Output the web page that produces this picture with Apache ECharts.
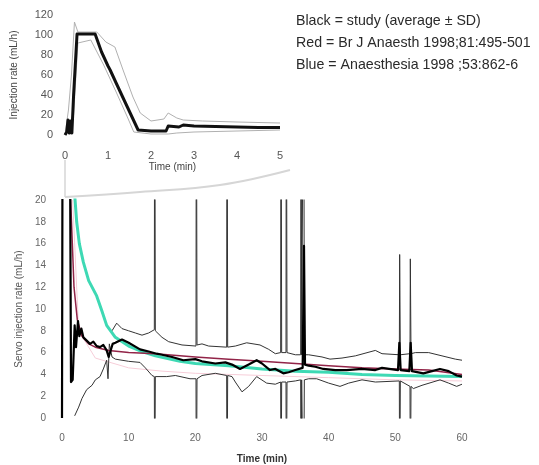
<!DOCTYPE html>
<html>
<head>
<meta charset="utf-8">
<script src="https://cdn.jsdelivr.net/npm/echarts@6/dist/echarts.min.js"></script>
<style>
  html, body { margin: 0; padding: 0; background: #fff; }
  #chart { width: 539px; height: 465px; }
</style>
</head>
<body>
<div id="chart"></div>
<script>
// ---- First 5 minutes (inset): injection rate, mL/h ----
const insetMean = [[0,0],[0.04,3],[0.07,15],[0.1,2],[0.13,14],[0.16,2],[0.2,40],[0.28,101],[0.7,101],[0.85,83],[1.0,69],[1.05,65],[1.2,51],[1.45,28],[1.7,5],[2.0,4],[2.35,4],[2.4,9],[2.65,8],[2.75,10],[3.0,9],[3.5,8.5],[4.0,8],[4.5,7.5],[5.0,7.5]];
const insetUpper = [[0,0],[0.08,25],[0.15,60],[0.22,113],[0.3,103],[0.74,103],[0.95,93],[1.16,88],[1.35,65],[1.58,38],[1.75,22],[2.0,14],[2.3,16],[2.4,22],[2.6,17],[2.75,15],[3.2,14],[4.0,13],[5.0,12]];
const insetLower = [[0,0],[0.2,20],[0.3,92],[0.6,95],[0.9,70],[1.2,42],[1.45,18],[1.6,3],[2.0,1],[2.4,1],[2.6,2],[3.0,3],[4.0,4],[5.0,5]];
const insetXTicks = [0, 5, 1];     // min, max, step
const insetYTicks = [0, 120, 20];

// ---- Full 60 minutes: servo injection rate, mL/h ----
const studyMean = [[0,0],[0.08,0],[0.3,100],[0.9,100],[1.2,25],[1.35,3.3],[1.6,3.5],[1.9,8.5],[2.1,6.5],[2.4,8.9],[2.6,7.5],[2.9,8.2],[3.2,7.4],[3.7,7.1],[4.2,6.8],[4.7,7.0],[5.2,6.6],[5.7,6.5],[6.2,6.7],[6.7,6.2],[7.0,5.6],[7.3,5.5],[7.6,6.8],[8,6.9],[9,7.2],[10,6.9],[11.7,6.3],[13,6.1],[14.2,5.9],[15,5.8],[16.5,5.6],[18.2,5.3],[20,5.4],[21,5.2],[23,5.0],[24.5,5.1],[25.5,4.9],[26.7,4.5],[28,4.9],[29.2,5.3],[30,5.0],[31.2,4.4],[32,4.5],[33.2,4.1],[34,4.2],[35,4.4],[36.1,4.6],[36.3,15.8],[36.45,4.9],[37,4.8],[38,4.7],[39.2,4.5],[41,4.4],[42.7,4.4],[45,4.5],[47,4.4],[48,4.6],[50.4,4.4],[50.6,6.9],[50.8,4.4],[52.1,4.3],[52.3,6.9],[52.5,4.3],[54.2,4.1],[55.5,4.3],[56.7,4.5],[58,4.3],[59.2,3.9],[60,3.8]];
const studyUpper = [[6.8,8.3],[7.5,8.0],[8.2,8.7],[9,8.2],[10,8.0],[11,7.8],[12,7.6],[13,7.8],[13.85,8.1],[13.9,40],[14.0,8.0],[15,7.4],[16,7.0],[18,6.7],[20.1,6.6],[20.15,40],[20.25,6.7],[21,6.8],[22,6.6],[24.7,6.5],[24.75,40],[24.85,6.5],[26,6.6],[27.7,6.9],[29.7,6.7],[31,6.3],[32,5.9],[32.8,6.0],[32.85,40],[32.95,6.0],[33.6,6.0],[33.65,40],[33.75,6.0],[35,5.8],[35.8,5.8],[35.85,40],[35.95,5.8],[36.2,5.8],[36.25,40],[36.35,5.8],[37,5.8],[39,5.6],[40.2,5.4],[42,5.5],[44,5.7],[47,6.2],[48,5.9],[50.6,5.8],[50.65,15],[50.75,5.8],[52.2,5.9],[52.25,14.6],[52.35,5.9],[53,6.0],[55,6.0],[57,5.7],[59,5.4],[60,5.3]];
const studyLower = [[1.9,0.2],[2.5,1.0],[3,1.8],[3.7,2.6],[4.5,3.0],[5,3.5],[5.7,3.8],[6.2,4.5],[6.7,5.3],[6.9,3.6],[7.1,6.8],[7.5,5.6],[8,5.4],[9,5.3],[10,5.2],[11.7,5.1],[12.5,4.6],[13.5,3.9],[13.85,3.8],[13.9,-10],[14.0,3.8],[15.7,3.8],[17,3.9],[19.2,3.6],[20.1,3.6],[20.15,-10],[20.25,3.6],[21,3.9],[23,4.1],[24.7,3.9],[24.75,-10],[24.85,3.9],[25.5,3.8],[26,3.3],[27,2.4],[28,2.9],[29.2,3.8],[30.7,3.2],[32,3.1],[32.8,3.3],[32.85,-10],[32.95,3.3],[33.6,3.3],[33.65,-10],[33.75,3.3],[35,3.4],[35.8,3.5],[35.85,-10],[35.95,3.5],[36.2,3.5],[36.25,-10],[36.35,3.5],[37,3.6],[38.2,3.6],[40,3.2],[41.7,2.9],[43,3.2],[45,3.5],[47,3.3],[50.6,3.4],[50.65,-10],[50.75,3.4],[52.2,2.9],[52.25,-10],[52.35,2.9],[52.7,2.7],[54,3.0],[56.7,3.5],[58,3.2],[59.2,2.9],[60,3.1]];
const bjaCurve = [[1.0,30],[1.3,20],[1.8,12],[2.3,9],[3,7.5],[4,6.8],[5,6.5],[7,6.2],[10,6.0],[14,5.9],[20,5.6],[25,5.4],[30,5.2],[35,5.0],[40,4.8],[45,4.6],[50,4.5],[55,4.4],[60,4.0]];
const bjaLower = [[1.6,20],[2.5,8],[5,5.5],[10,4.6],[15,4.3],[20,4.1],[30,3.9],[40,3.7],[50,3.5],[60,3.4]];
const anaesthesiaCurve = [[1.9,20.5],[2.2,18],[2.6,16],[3.2,14.3],[4,12.6],[5.2,11.2],[6,9.8],[6.7,8.5],[8,7.4],[10,6.6],[12,6.1],[14,5.7],[17.7,5.2],[20,5.0],[25,4.8],[30,4.5],[35,4.3],[40,4.2],[45,4.0],[50,3.9],[55,3.85],[60,3.8]];
const mainXTicks = [0, 60, 10];
const mainYTicks = [0, 20, 2];

const legendLines = [
  'Black = study (average \u00b1 SD)',
  'Red = Br J Anaesth 1998;81:495-501',
  'Blue = Anaesthesia 1998 ;53:862-6'
];

const FONT = 'Liberation Sans, Arial, sans-serif';
const chart = echarts.init(document.getElementById('chart'), null, { renderer: 'canvas' });

function valueAxis(ticks, extra) {
  return Object.assign({
    type: 'value', min: ticks[0], max: ticks[1], interval: ticks[2],
    axisLine: { show: false }, axisTick: { show: false }, splitLine: { show: false }
  }, extra);
}

function lineSeries(data, xi, color, width, z, opacity) {
  return {
    type: 'line', xAxisIndex: xi, yAxisIndex: xi, data: data,
    showSymbol: false, symbol: 'none', clip: true, z: z, silent: true,
    lineStyle: { color: color, width: width, opacity: opacity == null ? 1 : opacity, join: 'round' }
  };
}

chart.setOption({
  backgroundColor: '#fff',
  animation: false,
  grid: [
    { left: 65, right: 259, top: 15, bottom: 330 },
    { left: 62, right: 77, top: 200, bottom: 43 }
  ],
  xAxis: [
    valueAxis(insetXTicks, {
      gridIndex: 0, name: 'Time (min)', nameLocation: 'middle', nameGap: 27,
      nameTextStyle: { fontFamily: FONT, fontSize: 10, color: '#444' },
      axisLabel: { fontFamily: FONT, fontSize: 11, color: '#555', margin: 15 }
    }),
    valueAxis(mainXTicks, {
      gridIndex: 1, name: 'Time (min)', nameLocation: 'middle', nameGap: 36,
      nameTextStyle: { fontFamily: FONT, fontSize: 10, fontWeight: 'bold', color: '#333' },
      axisLabel: { fontFamily: FONT, fontSize: 10, color: '#666', margin: 15 }
    })
  ],
  yAxis: [
    valueAxis(insetYTicks, {
      gridIndex: 0, name: 'Injection rate (mL/h)', nameLocation: 'middle', nameGap: 46,
      nameTextStyle: { fontFamily: FONT, fontSize: 10, color: '#444' },
      axisLabel: { fontFamily: FONT, fontSize: 11, color: '#555', margin: 12 }
    }),
    valueAxis(mainYTicks, {
      gridIndex: 1, name: 'Servo injection rate (mL/h)', nameLocation: 'middle', nameGap: 37,
      nameTextStyle: { fontFamily: FONT, fontSize: 10, color: '#555' },
      axisLabel: { fontFamily: FONT, fontSize: 10, color: '#666', margin: 16 }
    })
  ],
  graphic: [
    { type: 'polyline', silent: true, z: 0,
      shape: { points: [[65, 197], [140, 192], [220, 185], [290, 170]], smooth: 0.4 },
      style: { stroke: '#d6d6d6', lineWidth: 2, fill: null } },
    { type: 'line', silent: true, z: 0,
      shape: { x1: 65, y1: 160, x2: 65, y2: 197 },
      style: { stroke: '#d6d6d6', lineWidth: 1.5 } }
  ].concat(legendLines.map(function (t, i) {
    return { type: 'text', left: 296, top: 14 + i * 22, silent: true,
      style: { text: t, fontFamily: FONT, fontSize: 14.2, fill: '#2a2a2a' } };
  })),
  series: [
    lineSeries(insetUpper, 0, '#b0b0b0', 1, 2),
    lineSeries(insetLower, 0, '#b0b0b0', 1, 2),
    lineSeries(insetMean, 0, '#111', 3, 3),

    lineSeries(bjaLower, 1, '#f6cdd8', 1, 2),
    lineSeries(studyUpper, 1, '#333', 1, 3),
    lineSeries(studyLower, 1, '#333', 1, 3),
    lineSeries(anaesthesiaCurve, 1, '#3ed9b4', 3, 4),
    lineSeries(bjaCurve, 1, '#922448', 1.5, 5),
    lineSeries(studyMean, 1, '#000', 2.2, 6)
  ]
});
</script>
</body>
</html>
